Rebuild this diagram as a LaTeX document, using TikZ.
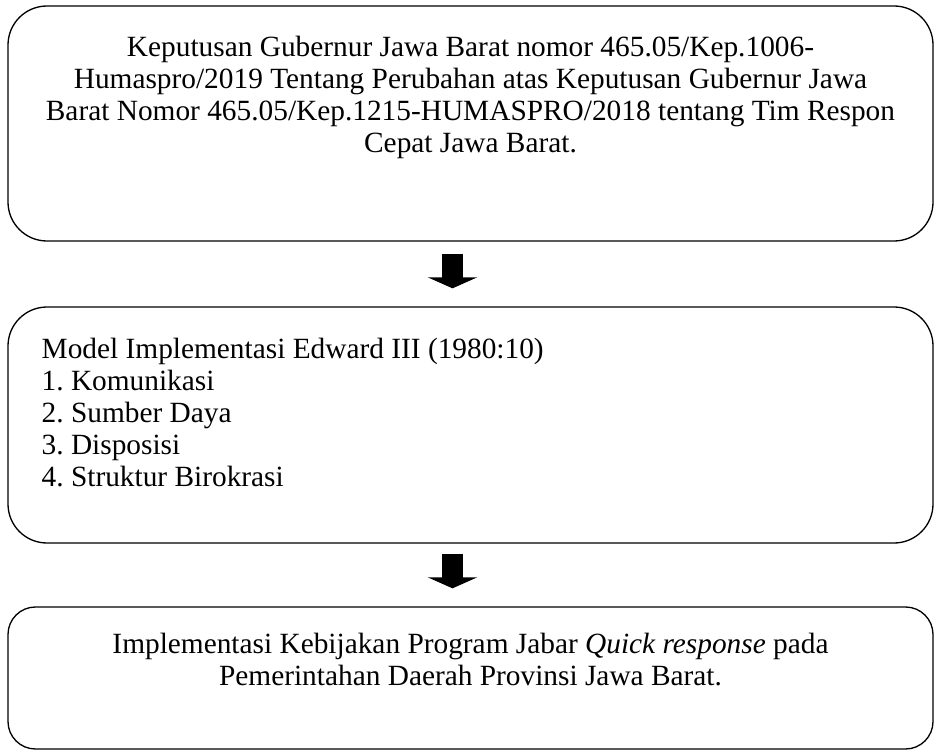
\documentclass[tikz,border=0pt]{standalone}
\usepackage{fontspec}
\setmainfont{Liberation Serif}
\usepackage{tikz}
\usetikzlibrary{arrows.meta,positioning,calc}
\tikzset{
  box/.style={draw=black, line width=0.75pt, fill=white, inner sep=0pt, minimum width=185mm},
  boxtext/.style={inner sep=0pt, font=\fontsize{16.7}{18.2}\selectfont\frenchspacing, text=black},
  blockarrow/.style={-{Triangle[length=2.2mm,width=9.8mm]}, line width=4.2mm, draw=black}
}

\begin{document}
\begin{tikzpicture}
\useasboundingbox (0,0) rectangle (18.74,15.06);
\node[box, rounded corners=7.8mm, minimum height=47mm] (keputusan) at (9.41,12.59) {};
\node[box, rounded corners=7.8mm, minimum height=47.2mm] (edward) at (9.41,6.56) {};
\node[box, rounded corners=5.5mm, minimum height=28.4mm] (kebijakan) at (9.41,1.50) {};
\node[boxtext, align=center, below=0.6cm of keputusan.north] (keputusantext) {Keputusan Gubernur Jawa Barat nomor 465.05/Kep.1006-\\Humaspro/2019 Tentang Perubahan atas Keputusan Gubernur Jawa\\Barat Nomor 465.05/Kep.1215-HUMASPRO/2018 tentang Tim Respon\\Cepat Jawa Barat.};
\node[boxtext, align=left, below right=0.63cm and 0.68cm of edward.north west] (edwardtext) {Model Implementasi Edward III (1980:10)\\1. Komunikasi\\2. Sumber Daya\\3. Disposisi\\4. Struktur Birokrasi};
\node[boxtext, align=center, below=0.52cm of kebijakan.north] (kebijakantext) {Implementasi Kebijakan Program Jabar \textit{Quick response} pada\\Pemerintahan Daerah Provinsi Jawa Barat.};
\draw[blockarrow] ($(keputusan.south)+(-0.36,-0.24)$) -- ($(edward.north)+(-0.36,0.36)$);
\draw[blockarrow] ($(edward.south)+(-0.36,-0.2)$) -- ($(kebijakan.north)+(-0.36,0.36)$);
\end{tikzpicture}
\end{document}
